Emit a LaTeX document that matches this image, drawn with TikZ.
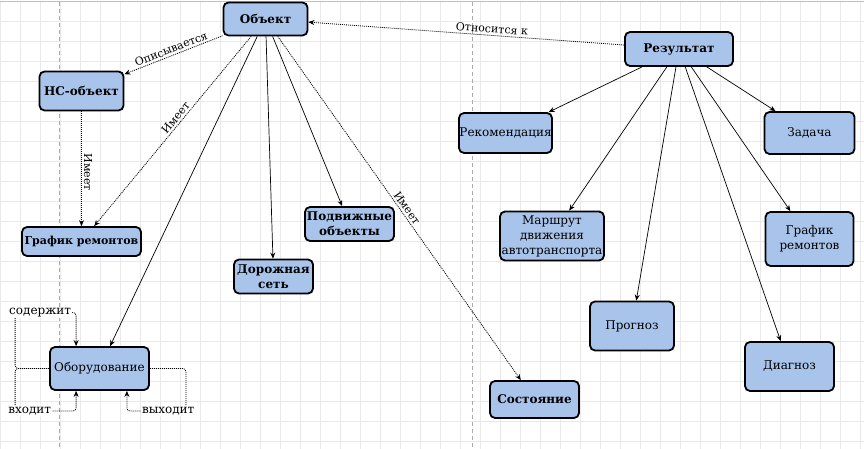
\documentclass[tikz,border=0pt]{standalone}
\usepackage{fontspec}
\setmainfont{DejaVu Serif}
\usetikzlibrary{arrows.meta}
\definecolor{boxfill}{HTML}{A9C4EB}
\definecolor{gridc}{HTML}{E9E9E9}
\definecolor{pagec}{HTML}{ABABAB}
\begin{document}
\begin{tikzpicture}[x=1pt,y=-1pt,
  box/.style={draw=black, line width=1.8pt, fill=boxfill, rounded corners=5pt, inner sep=0pt, align=center, font=\fontsize{12}{15}\selectfont},
  bbox/.style={box, font=\fontsize{12}{15}\selectfont\bfseries},
  solidarrow/.style={draw, line width=0.7pt, -{Stealth[length=6pt,width=5pt]}},
  dotarrow/.style={solidarrow, dash pattern=on 1pt off 1pt, line width=0.8pt},
  dotloop/.style={dotarrow, rounded corners=3pt},
  lbl/.style={font=\fontsize{11}{13}\selectfont, inner sep=2pt},
  looplbl/.style={font=\fontsize{12}{14}\selectfont, fill=white, inner sep=1pt},
]
\useasboundingbox (0,0) rectangle (864,449);
\fill[white] (0,0) rectangle (864,449);
% grid
\foreach \x in {0,20,...,860} \draw[gridc, line width=0.8pt] (\x,2) -- (\x,449);
\foreach \y in {21.5,41.5,...,441.5} \draw[gridc, line width=0.8pt] (0,\y) -- (864,\y);
\draw[gray!50, line width=1pt] (0,1.5) -- (864,1.5);
\draw[pagec, dash pattern=on 4pt off 3pt, line width=0.8pt] (59.5,2) -- (59.5,449);
\draw[pagec, dash pattern=on 4pt off 3pt, line width=0.8pt] (472,2) -- (472,449);

% nodes
\node[bbox, minimum width=84pt, minimum height=33pt] (obj) at (265.5,19) {Объект};
\node[bbox, minimum width=84pt, minimum height=39pt] (ns) at (81.5,91) {НС-объект};
\node[bbox, minimum width=119pt, minimum height=29pt, font=\fontsize{11}{14}\selectfont\bfseries] (grl) at (81.5,241.5) {График ремонтов};
\node[bbox, minimum width=79pt, minimum height=34pt] (dor) at (273.5,276.5) {Дорожная\\сеть};
\node[bbox, minimum width=89pt, minimum height=34pt] (podv) at (349.5,224) {Подвижные\\объекты};
\node[box, minimum width=99pt, minimum height=43pt] (obor) at (99.5,368.5) {Оборудование};
\node[bbox, minimum width=89pt, minimum height=37pt] (sost) at (534.5,399.5) {Состояние};
\node[bbox, minimum width=108pt, minimum height=34pt] (res) at (679,49) {Результат};
\node[box, minimum width=93pt, minimum height=40pt] (rek) at (505.5,133) {Рекомендация};
\node[box, minimum width=90pt, minimum height=42pt] (zad) at (809.5,133) {Задача};
\node[box, minimum width=104pt, minimum height=49pt] (mar) at (552,236) {Маршрут\\движения\\автотранспорта};
\node[box, minimum width=88pt, minimum height=54pt] (grr) at (809.5,239) {График\\ремонтов};
\node[box, minimum width=84pt, minimum height=49pt] (prog) at (632,326) {Прогноз};
\node[box, minimum width=89pt, minimum height=49pt] (diag) at (789.5,366.5) {Диагноз};

% dotted relations
\draw[dotarrow] (obj) -- node[lbl, sloped, above]{Описывается} (ns);
\draw[dotarrow] (obj) -- node[lbl, sloped, above, pos=0.45]{Имеет} (grl);
\draw[dotarrow] (ns) -- node[lbl, rotate=-90, anchor=south, pos=0.53]{Имеет} (grl);
\draw[dotarrow] (obj) -- node[lbl, sloped, above, pos=0.51]{Имеет} (sost);
\draw[dotarrow] (res) -- node[lbl, sloped, above, pos=0.42]{Относится к} (obj);

% solid relations
\draw[solidarrow] (obj) -- (obor);
\draw[solidarrow] (obj) -- (dor);
\draw[solidarrow] (obj) -- (podv);
\draw[solidarrow] (res) -- (rek);
\draw[solidarrow] (res) -- (mar);
\draw[solidarrow] (res) -- (prog);
\draw[solidarrow] (res) -- (diag);
\draw[solidarrow] (res) -- (grr);
\draw[solidarrow] (res) -- (zad);

% loops of Оборудование
\draw[dotloop] (obor.west) -- ++(-34,0) -- ++(0,-56) -| node[looplbl, pos=0.205]{содержит} ([xshift=27pt]obor.north west);
\draw[dotloop] (obor.west) -- ++(-34,0) -- ++(0,42.5) -| node[looplbl, pos=0.12]{входит} ([xshift=27pt]obor.south west);
\draw[dotloop] (obor.east) -- ++(36,0) -- ++(0,42.5) -| node[looplbl, pos=0.15]{выходит} ([xshift=-23pt]obor.south east);
\end{tikzpicture}
\end{document}
